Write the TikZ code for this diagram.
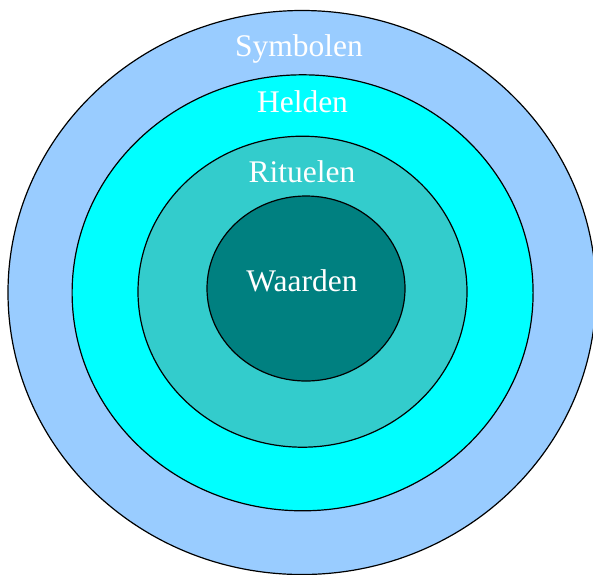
\documentclass[tikz,border=0pt]{standalone}
\usepackage{fontspec}
\setmainfont{Liberation Serif}
\usetikzlibrary{shapes.geometric}
\definecolor{ringA}{HTML}{99CCFF}
\definecolor{ringB}{HTML}{00FFFF}
\definecolor{ringC}{HTML}{33CCCC}
\definecolor{ringD}{HTML}{008080}
\tikzset{
  ring/.style={ellipse, draw=black, line width=1.2pt, inner sep=0pt},
  lbl/.style={text=white, anchor=base, inner sep=0pt, font=\fontsize{31.5pt}{36pt}\selectfont}
}
\begin{document}
\begin{tikzpicture}[x=1pt,y=1pt]
\useasboundingbox (0,0) rectangle (593,-574);
\clip (0,0) rectangle (593,-574);
\node[ring, fill=ringA, minimum width=588pt, minimum height=564pt] (sym) at (302,-292.5) {};
\node[ring, fill=ringB, minimum width=461pt, minimum height=436pt] (held) at (302.6,-292.8) {};
\node[ring, fill=ringC, minimum width=329pt, minimum height=311pt] (rit) at (302.5,-291.7) {};
\node[ring, fill=ringD, minimum width=198pt, minimum height=185pt] (waar) at (306,-288.5) {};
\node[lbl] (tsym) at (299,-56.7) {Symbolen};
\node[lbl] (thel) at (302.5,-112.7) {Helden};
\node[lbl] (trit) at (302,-182) {Rituelen};
\node[lbl] (twaar) at (302,-291.7) {Waarden};
\end{tikzpicture}
\end{document}
